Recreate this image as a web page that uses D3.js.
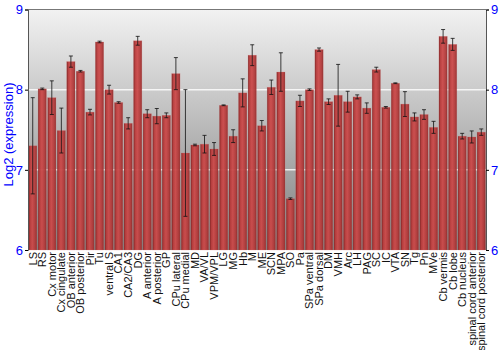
<!DOCTYPE html>
<html>
<head>
<meta charset="utf-8">
<script src="https://cdn.jsdelivr.net/npm/d3@7"></script>
<style>
  body { margin: 0; background: #fff; }
  svg { display: block; font-family: "Liberation Sans", Arial, sans-serif; }
  .tick-lab { fill: #0000ff; font-size: 13px; }
  .x-lab { fill: #111; font-size: 11px; }
</style>
</head>
<body>
<div id="vis"></div>
<script>
// Regional expression, log2 scale, with error bars

var regions = ['LS', 'RS', 'Cx motor', 'Cx cingulate', 'OB anterior', 'OB posterior', 'Pir', 'Tu',
  'ventral S', 'CA1', 'CA2/CA3', 'DG', 'A anterior', 'A posterior', 'GP', 'CPu lateral', 'CPu medial',
  'MD', 'VA/VL', 'VPM/VPL', 'LG', 'MG', 'Hb', 'M', 'ME', 'SCN', 'MPA', 'SO', 'Pa', 'SPa ventral',
  'SPa dorsal', 'DM', 'VMH', 'Arc', 'LH', 'PAG', 'SC', 'IC', 'VTA', 'SN', 'Tg', 'Pn', 'MVe',
  'Cb vermis', 'Cb lobe', 'Cb nucleus', 'spinal cord anterior', 'spinal cord posterior'];

var values = [7.30, 8.01, 7.90, 7.49, 8.35, 8.23, 7.72, 8.595,
  8.00, 7.84, 7.58, 8.61, 7.70, 7.67, 7.68, 8.20, 7.21,
  7.31, 7.32, 7.26, 7.805, 7.42, 7.96, 8.43, 7.55, 8.03, 8.22, 6.64, 7.86, 8.00,
  8.50, 7.85, 7.93, 7.85, 7.91, 7.77, 8.25, 7.78, 8.08, 7.82, 7.66, 7.69, 7.53,
  8.665, 8.565, 7.42, 7.41, 7.47];

var errors = [0.60, 0.01, 0.21, 0.28, 0.07, 0.01, 0.035, 0.01,
  0.055, 0.01, 0.07, 0.055, 0.05, 0.095, 0.03, 0.20, 0.79,
  0.01, 0.11, 0.08, 0.005, 0.08, 0.175, 0.13, 0.065, 0.09, 0.24, 0.01, 0.07, 0.01,
  0.02, 0.035, 0.385, 0.13, 0.025, 0.065, 0.03, 0.01, 0.005, 0.155, 0.05, 0.06, 0.075,
  0.085, 0.075, 0.035, 0.075, 0.04];

var yTicks = [6, 7, 8, 9];

var margin = { top: 9.5, right: 14, bottom: 100, left: 28 };
var W = 500, H = 350;
var width = W - margin.left - margin.right;
var height = H - margin.top - margin.bottom;

var svg = d3.select('#vis').append('svg')
  .attr('width', W)
  .attr('height', H);

var defs = svg.append('defs');

var bg = defs.append('linearGradient').attr('id', 'bg')
  .attr('x1', 0).attr('y1', 0).attr('x2', 0).attr('y2', 1);
bg.append('stop').attr('offset', '0%').attr('stop-color', '#f2f2f2');
bg.append('stop').attr('offset', '100%').attr('stop-color', '#7e7e7e');

var barGrad = defs.append('linearGradient').attr('id', 'bar')
  .attr('x1', 0).attr('y1', 0).attr('x2', 1).attr('y2', 0);
barGrad.append('stop').attr('offset', '0%').attr('stop-color', '#7a1c1c');
barGrad.append('stop').attr('offset', '18%').attr('stop-color', '#b83a3a');
barGrad.append('stop').attr('offset', '45%').attr('stop-color', '#cc4a4a');
barGrad.append('stop').attr('offset', '80%').attr('stop-color', '#b23a3a');
barGrad.append('stop').attr('offset', '100%').attr('stop-color', '#8e2a2a');

var vis = svg.append('g')
  .attr('transform', `translate(${margin.left},${margin.top})`);

var xScale = d3.scaleBand()
  .domain(regions)
  .range([0, width])
  .paddingInner(0.13)
  .paddingOuter(0.06);

var yScale = d3.scaleLinear()
  .domain([6, 9])
  .range([height, 0]);

// plot background
vis.append('rect')
  .attr('width', width)
  .attr('height', height)
  .attr('fill', 'url(#bg)');

// grid lines (behind bars)
vis.append('g').selectAll('line')
  .data(yTicks.filter(t => t > 6 && t < 9))
  .join('line')
  .attr('x1', 0).attr('x2', width)
  .attr('y1', d => yScale(d)).attr('y2', d => yScale(d))
  .attr('stroke', '#fff')
  .attr('stroke-opacity', 0.8)
  .attr('stroke-width', 1.5);

// bars
vis.append('g').selectAll('rect')
  .data(values)
  .join('rect')
  .attr('x', (d, i) => xScale(regions[i]))
  .attr('y', d => yScale(d))
  .attr('width', xScale.bandwidth())
  .attr('height', d => height - yScale(d))
  .attr('fill', 'url(#bar)')
  .attr('fill-opacity', 0.95)
  .attr('stroke', '#d86a6a')
  .attr('stroke-opacity', 0.35)
  .attr('stroke-width', 0.6);

// error bars
var eb = vis.append('g').attr('stroke', '#111').attr('stroke-opacity', 0.8).attr('stroke-width', 1);
var cap = 2;
values.forEach(function (v, i) {
  var cx = xScale(regions[i]) + xScale.bandwidth() / 2;
  var y1 = yScale(v + errors[i]);
  var y2 = yScale(v - errors[i]);
  eb.append('line').attr('x1', cx).attr('x2', cx).attr('y1', y1).attr('y2', y2);
  eb.append('line').attr('x1', cx - cap).attr('x2', cx + cap).attr('y1', y1).attr('y2', y1);
  eb.append('line').attr('x1', cx - cap).attr('x2', cx + cap).attr('y1', y2).attr('y2', y2);
});

// frame: top border
vis.append('line')
  .attr('x1', 0).attr('x2', width).attr('y1', 0).attr('y2', 0)
  .attr('stroke', '#777');

// left axis
var leftAxis = vis.append('g')
  .call(d3.axisLeft(yScale).tickValues(yTicks).tickSize(3).tickFormat(d3.format('d')));
leftAxis.select('.domain').attr('stroke', '#555');
leftAxis.selectAll('.tick line').attr('stroke', '#000');
leftAxis.selectAll('.tick text').attr('class', 'tick-lab').attr('x', -5)
  .style('font-size', '13px').attr('fill', '#0000ff').attr('font-family', null);

// right axis
var rightAxis = vis.append('g')
  .attr('transform', `translate(${width},0)`)
  .call(d3.axisRight(yScale).tickValues(yTicks).tickSize(3).tickFormat(d3.format('d')));
rightAxis.select('.domain').attr('stroke', '#555');
rightAxis.selectAll('.tick line').attr('stroke', '#000');
rightAxis.selectAll('.tick text').attr('class', 'tick-lab').attr('x', 5)
  .style('font-size', '13px').attr('fill', '#0000ff').attr('font-family', null);

// category labels
vis.append('g').selectAll('text')
  .data(regions)
  .join('text')
  .attr('class', 'x-lab')
  .attr('text-anchor', 'end')
  .attr('dy', '0.35em')
  .attr('transform', d => `translate(${xScale(d) + xScale.bandwidth() / 2},${height + 2}) rotate(-90)`)
  .text(d => d);

// y-axis title
svg.append('text')
  .attr('text-anchor', 'middle')
  .attr('transform', `translate(13,${margin.top + 125}) rotate(-90)`)
  .attr('fill', '#0000ff')
  .style('font-size', '13px')
  .text('Log2 (expression)');
</script>
</body>
</html>
